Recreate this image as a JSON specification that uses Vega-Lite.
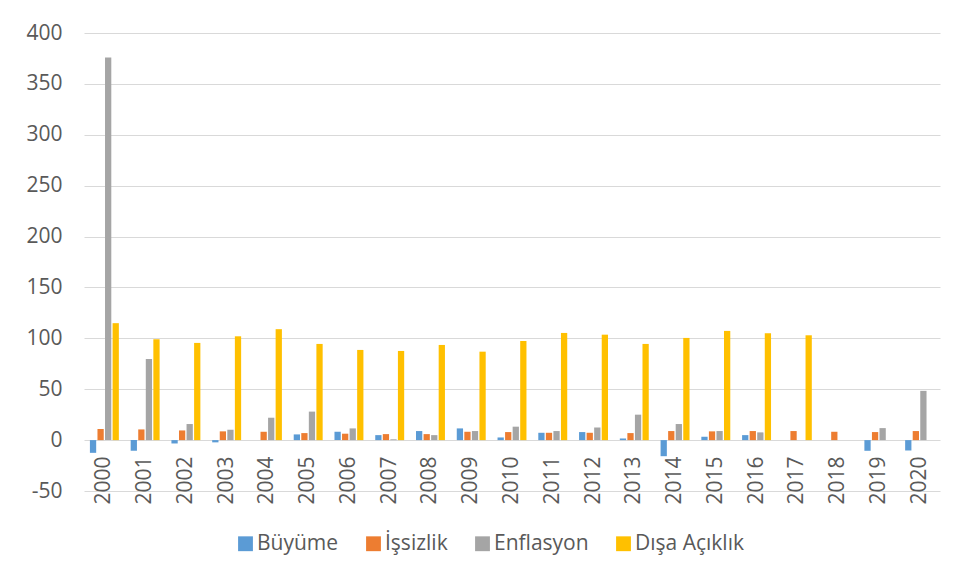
{
  "$schema": "https://vega.github.io/schema/vega-lite/v6.json",
  "width": 856,
  "height": 458,
  "autosize": {"type": "none"},
  "padding": {"left": 84, "top": 33, "right": 19, "bottom": 87},
  "background": "white",
  "config": {
    "view": {"stroke": null},
    "font": "Open Sans"
  },
  "data": {
    "values": [
      {"year": "2000", "series": "Büyüme", "value": -12.5},
      {"year": "2000", "series": "İşsizlik", "value": 10.9},
      {"year": "2000", "series": "Enflasyon", "value": 376},
      {"year": "2000", "series": "Dışa Açıklık", "value": 114.9},
      {"year": "2001", "series": "Büyüme", "value": -10.5},
      {"year": "2001", "series": "İşsizlik", "value": 10.5},
      {"year": "2001", "series": "Enflasyon", "value": 79.7},
      {"year": "2001", "series": "Dışa Açıklık", "value": 99.1},
      {"year": "2002", "series": "Büyüme", "value": -3.3},
      {"year": "2002", "series": "İşsizlik", "value": 9.5},
      {"year": "2002", "series": "Enflasyon", "value": 15.8},
      {"year": "2002", "series": "Dışa Açıklık", "value": 95.5},
      {"year": "2003", "series": "Büyüme", "value": -2.2},
      {"year": "2003", "series": "İşsizlik", "value": 8.6},
      {"year": "2003", "series": "Enflasyon", "value": 10.2},
      {"year": "2003", "series": "Dışa Açıklık", "value": 102},
      {"year": "2004", "series": "İşsizlik", "value": 8.2},
      {"year": "2004", "series": "Enflasyon", "value": 22},
      {"year": "2004", "series": "Dışa Açıklık", "value": 109},
      {"year": "2005", "series": "Büyüme", "value": 5.6},
      {"year": "2005", "series": "İşsizlik", "value": 6.9},
      {"year": "2005", "series": "Enflasyon", "value": 28},
      {"year": "2005", "series": "Dışa Açıklık", "value": 94.5},
      {"year": "2006", "series": "Büyüme", "value": 8.2},
      {"year": "2006", "series": "İşsizlik", "value": 6.3},
      {"year": "2006", "series": "Enflasyon", "value": 11.5},
      {"year": "2006", "series": "Dışa Açıklık", "value": 88.6},
      {"year": "2007", "series": "Büyüme", "value": 4.9},
      {"year": "2007", "series": "İşsizlik", "value": 5.9},
      {"year": "2007", "series": "Enflasyon", "value": 0.8},
      {"year": "2007", "series": "Dışa Açıklık", "value": 87.6},
      {"year": "2008", "series": "Büyüme", "value": 8.9},
      {"year": "2008", "series": "İşsizlik", "value": 5.9},
      {"year": "2008", "series": "Enflasyon", "value": 4.9},
      {"year": "2008", "series": "Dışa Açıklık", "value": 93.5},
      {"year": "2009", "series": "Büyüme", "value": 11.5},
      {"year": "2009", "series": "İşsizlik", "value": 8.2},
      {"year": "2009", "series": "Enflasyon", "value": 8.9},
      {"year": "2009", "series": "Dışa Açıklık", "value": 86.9},
      {"year": "2010", "series": "Büyüme", "value": 2.6},
      {"year": "2010", "series": "İşsizlik", "value": 7.9},
      {"year": "2010", "series": "Enflasyon", "value": 13.2},
      {"year": "2010", "series": "Dışa Açıklık", "value": 97.4},
      {"year": "2011", "series": "Büyüme", "value": 7.2},
      {"year": "2011", "series": "İşsizlik", "value": 7.2},
      {"year": "2011", "series": "Enflasyon", "value": 8.9},
      {"year": "2011", "series": "Dışa Açıklık", "value": 105.3},
      {"year": "2012", "series": "Büyüme", "value": 7.9},
      {"year": "2012", "series": "İşsizlik", "value": 7.2},
      {"year": "2012", "series": "Enflasyon", "value": 12.5},
      {"year": "2012", "series": "Dışa Açıklık", "value": 103.6},
      {"year": "2013", "series": "Büyüme", "value": 1.6},
      {"year": "2013", "series": "İşsizlik", "value": 6.9},
      {"year": "2013", "series": "Enflasyon", "value": 25},
      {"year": "2013", "series": "Dışa Açıklık", "value": 94.5},
      {"year": "2014", "series": "Büyüme", "value": -15.8},
      {"year": "2014", "series": "İşsizlik", "value": 8.9},
      {"year": "2014", "series": "Enflasyon", "value": 15.8},
      {"year": "2014", "series": "Dışa Açıklık", "value": 100.4},
      {"year": "2015", "series": "Büyüme", "value": 3.3},
      {"year": "2015", "series": "İşsizlik", "value": 8.6},
      {"year": "2015", "series": "Enflasyon", "value": 8.9},
      {"year": "2015", "series": "Dışa Açıklık", "value": 107.3},
      {"year": "2016", "series": "Büyüme", "value": 4.9},
      {"year": "2016", "series": "İşsizlik", "value": 8.9},
      {"year": "2016", "series": "Enflasyon", "value": 7.6},
      {"year": "2016", "series": "Dışa Açıklık", "value": 105},
      {"year": "2017", "series": "İşsizlik", "value": 8.9},
      {"year": "2017", "series": "Dışa Açıklık", "value": 103},
      {"year": "2018", "series": "İşsizlik", "value": 8.2},
      {"year": "2019", "series": "Büyüme", "value": -10.5},
      {"year": "2019", "series": "İşsizlik", "value": 7.9},
      {"year": "2019", "series": "Enflasyon", "value": 11.8},
      {"year": "2020", "series": "Büyüme", "value": -10.2},
      {"year": "2020", "series": "İşsizlik", "value": 8.9},
      {"year": "2020", "series": "Enflasyon", "value": 48.4}
    ]
  },
  "mark": {"type": "bar"},
  "encoding": {
    "x": {
      "field": "year",
      "type": "nominal",
      "scale": {"paddingInner": 0.29, "paddingOuter": 0.145},
      "axis": {
        "title": null,
        "labelAngle": -90,
        "offset": -51,
        "domain": false,
        "ticks": false,
        "labelPadding": 16,
        "labelFontSize": 21,
        "labelColor": "#595959",
        "grid": false
      }
    },
    "xOffset": {
      "field": "series",
      "type": "nominal",
      "scale": {
        "domain": ["Büyüme", "İşsizlik", "Enflasyon", "Dışa Açıklık"],
        "paddingInner": 0.17
      }
    },
    "y": {
      "field": "value",
      "type": "quantitative",
      "scale": {"domain": [-50, 400], "nice": false},
      "axis": {
        "title": null,
        "values": [-50, 0, 50, 100, 150, 200, 250, 300, 350, 400],
        "labelExpr": "'' + datum.value",
        "domain": false,
        "ticks": false,
        "labelPadding": 22,
        "labelFontSize": 21,
        "labelColor": "#595959",
        "gridColor": "#D9D9D9",
        "gridWidth": 1
      }
    },
    "color": {
      "field": "series",
      "type": "nominal",
      "scale": {
        "domain": ["Büyüme", "İşsizlik", "Enflasyon", "Dışa Açıklık"],
        "range": ["#5B9BD5", "#ED7D31", "#A5A5A5", "#FFC000"]
      },
      "legend": {
        "title": null,
        "orient": "none",
        "legendX": 151,
        "legendY": 500,
        "direction": "horizontal",
        "symbolType": "square",
        "symbolSize": 220,
        "symbolStrokeWidth": 0,
        "labelFontSize": 21,
        "labelColor": "#595959",
        "labelOffset": 1,
        "columnPadding": 24
      }
    }
  }
}
